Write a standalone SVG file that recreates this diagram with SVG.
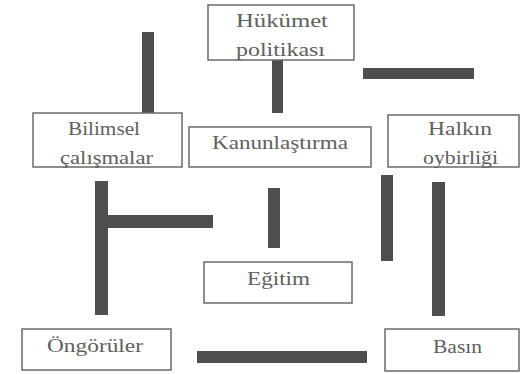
<svg xmlns="http://www.w3.org/2000/svg" width="520" height="374" viewBox="0 0 520 374">
<style>
.box{fill:#fff;stroke:#6a6a6a;stroke-width:1.5}
.t{font-family:'Liberation Serif','DejaVu Serif','Times New Roman',serif;font-size:19px;fill:#606060}
.bar{fill:#4e4e4e}
</style>
<rect width="520" height="374" fill="#fff"/>
<g id="connectors">
<rect class="bar" x="142" y="32" width="12" height="81"/>
<rect class="bar" x="272" y="60" width="11" height="53"/>
<rect class="bar" x="363" y="68" width="111" height="11"/>
<rect class="bar" x="95" y="181" width="13" height="134"/>
<rect class="bar" x="108" y="215" width="105" height="13"/>
<rect class="bar" x="268" y="188" width="12" height="60"/>
<rect class="bar" x="381" y="175" width="12" height="86"/>
<rect class="bar" x="432" y="182" width="13" height="134"/>
<rect class="bar" x="197" y="351" width="170" height="12"/>
</g>
<g id="hukumet">
<rect class="box" x="208" y="5" width="146" height="55"/>
<text class="t" x="236" y="27" textLength="92" lengthAdjust="spacingAndGlyphs">Hükümet</text>
<text class="t" x="236" y="56" textLength="89" lengthAdjust="spacingAndGlyphs">politikası</text>
</g>
<g id="bilimsel">
<rect class="box" x="33" y="113" width="149" height="54"/>
<text class="t" x="68" y="135" textLength="72" lengthAdjust="spacingAndGlyphs">Bilimsel</text>
<text class="t" x="60" y="164" textLength="93" lengthAdjust="spacingAndGlyphs">çalışmalar</text>
</g>
<g id="kanun">
<rect class="box" x="189" y="127" width="182" height="40"/>
<text class="t" x="212" y="149" textLength="136" lengthAdjust="spacingAndGlyphs">Kanunlaştırma</text>
</g>
<g id="halkin">
<rect class="box" x="388" y="115" width="131" height="52"/>
<text class="t" x="428" y="135" textLength="64" lengthAdjust="spacingAndGlyphs">Halkın</text>
<text class="t" x="423" y="164" textLength="75" lengthAdjust="spacingAndGlyphs">oybirliği</text>
</g>
<g id="egitim">
<rect class="box" x="204" y="262" width="148" height="41"/>
<text class="t" x="247" y="285" textLength="63" lengthAdjust="spacingAndGlyphs">Eğitim</text>
</g>
<g id="ongoruler">
<rect class="box" x="22" y="329" width="149" height="41"/>
<text class="t" x="47" y="352" textLength="96" lengthAdjust="spacingAndGlyphs">Öngörüler</text>
</g>
<g id="basin">
<rect class="box" x="385" y="329" width="134" height="42"/>
<text class="t" x="433" y="353" textLength="49" lengthAdjust="spacingAndGlyphs">Basın</text>
</g>
</svg>
